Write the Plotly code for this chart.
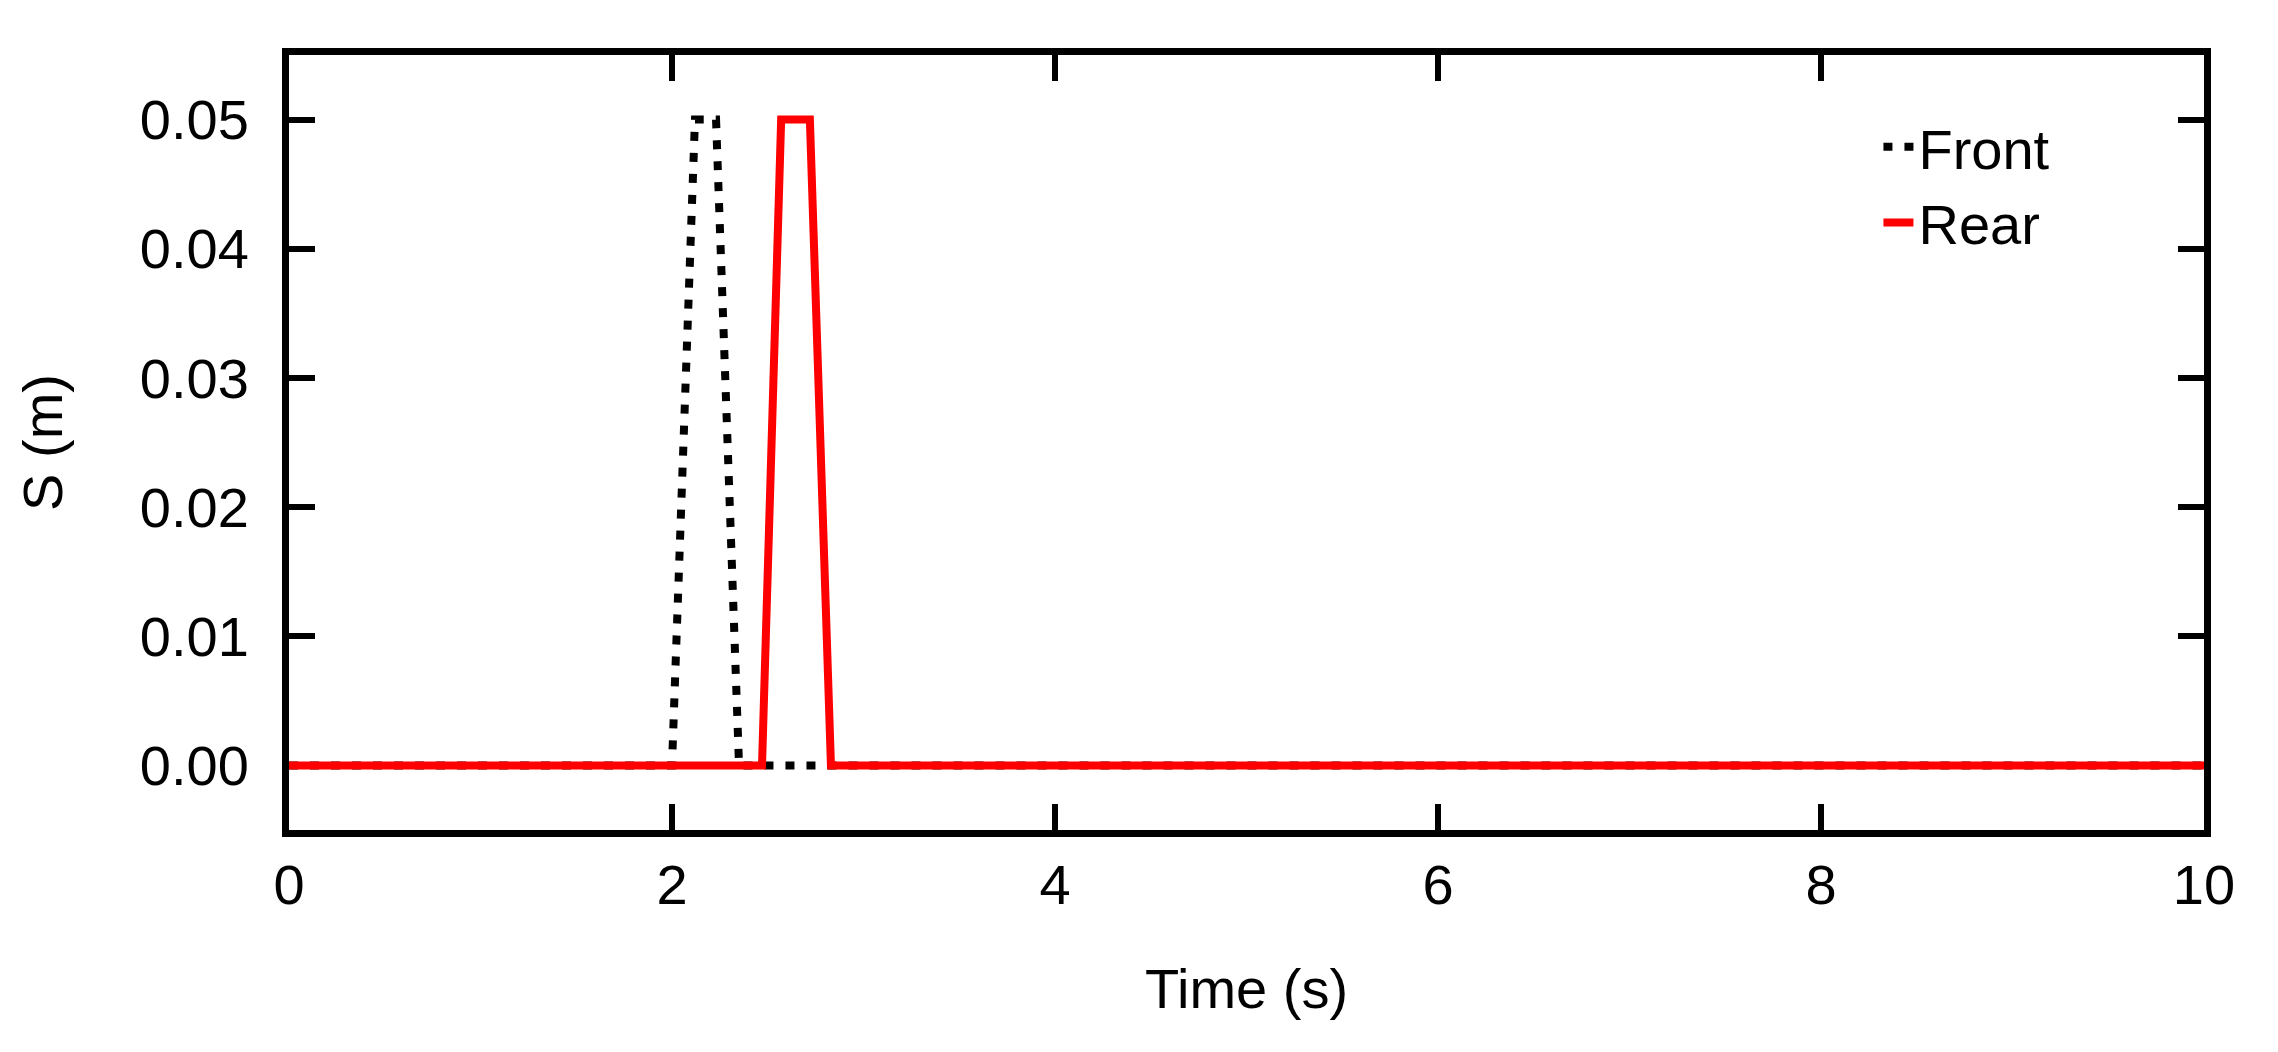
import plotly.graph_objects as go

# displacement input
time_front = [0.0, 2.0, 2.12, 2.23, 2.35, 10.0]
s_front = [0.0, 0.0, 0.05, 0.05, 0.0, 0.0]

time_rear = [0.0, 2.47, 2.57, 2.72, 2.83, 10.0]
s_rear = [0.0, 0.0, 0.05, 0.05, 0.0, 0.0]

x_ticks = [0, 2, 4, 6, 8, 10]
y_ticks = [0.00, 0.01, 0.02, 0.03, 0.04, 0.05]
y_tick_labels = ['0.00', '0.01', '0.02', '0.03', '0.04', '0.05']

FONT = 'Liberation Sans, Arial, sans-serif'
FS = 56

fig = go.Figure()

# front drawn first so the rear line sits on top of it
fig.add_trace(go.Scatter(
    x=time_front, y=s_front,
    mode='lines', name='Front',
    line=dict(color='black', width=8, dash='9px,12px'),
))
fig.add_trace(go.Scatter(
    x=time_rear, y=s_rear,
    mode='lines', name='Rear',
    line=dict(color='#ff0000', width=8),
))

axis_common = dict(
    showline=True, linecolor='black', linewidth=7,
    mirror='ticks', ticks='inside', ticklen=26, tickwidth=6, tickcolor='black',
    showgrid=False, zeroline=False, layer='below traces',
    tickfont=dict(family=FONT, size=FS, color='black'),
)

# page body adds an 8px margin, so the figure is a bit smaller than the window
fig.update_layout(
    width=2270, height=1044,
    margin=dict(l=281, r=74, t=47, b=222),
    paper_bgcolor='white', plot_bgcolor='white',
    font=dict(family=FONT, size=FS, color='black'),
    xaxis=dict(
        range=[0, 10], tickvals=x_ticks,
        title=dict(text='Time (s)', font=dict(family=FONT, size=FS), standoff=56),
        ticklabelstandoff=0,
        **axis_common,
    ),
    yaxis=dict(
        range=[-0.005, 0.055], tickvals=y_ticks, ticktext=y_tick_labels,
        title=dict(text='S (m)', font=dict(family=FONT, size=FS), standoff=62),
        ticklabelstandoff=22,
        **axis_common,
    ),
    legend=dict(
        x=0.83, y=0.937, xanchor='left', yanchor='top',
        bgcolor='rgba(0,0,0,0)', borderwidth=0,
        font=dict(family=FONT, size=FS, color='black'),
        tracegroupgap=0,
    ),
    showlegend=True,
)

fig.write_html("out.html")
